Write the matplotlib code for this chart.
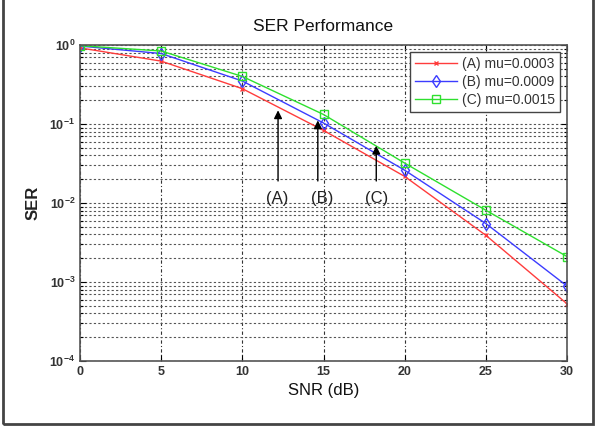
import matplotlib
matplotlib.use("Agg")
import matplotlib.pyplot as plt
import matplotlib.ticker as mticker
from matplotlib.patches import Rectangle

plt.rcParams['font.family'] = ['Liberation Sans', 'DejaVu Sans']

snr = [0, 5, 10, 15, 20, 25, 30]
ser_a = [0.92, 0.625, 0.28, 0.083, 0.0217, 0.0039, 0.00053]
ser_b = [0.97, 0.78, 0.35, 0.103, 0.026, 0.0055, 0.00089]
ser_c = [0.98, 0.84, 0.40, 0.132, 0.032, 0.0081, 0.0021]
labels = ['(A) mu=0.0003', '(B) mu=0.0009', '(C) mu=0.0015']

arrow_x = [12.2, 14.65, 18.25]
arrow_tip = [0.149, 0.111, 0.053]
arrow_tail = 0.019
arrow_text = ['(A)', '(B)', '(C)']
text_x = [12.15, 14.9, 18.25]
text_y = 0.0114

fig = plt.figure(figsize=(6.05, 4.38), dpi=100)
ax = fig.add_axes([80/605, 1-361/438, (567-80)/605, (361-45)/438])

ax.set_yscale('log')
ax.set_xlim(0, 30)
ax.set_ylim(1e-4, 1)

ax.plot(snr, ser_a, color='#ff3c3c', marker='x', ms=3.5, mew=1.0, lw=1.0, label=labels[0])
ax.plot(snr, ser_b, color='#3c3cff', marker='d', ms=6, mfc='none', mew=1.0, lw=1.0, label=labels[1])
ax.plot(snr, ser_c, color='#2ee02e', marker='s', ms=6, mfc='none', mew=1.0, lw=1.0, label=labels[2])

for xa, tip, t, tx in zip(arrow_x, arrow_tip, arrow_text, text_x):
    ax.annotate('', xy=(xa, tip), xytext=(xa, arrow_tail),
                arrowprops=dict(arrowstyle='-|>', color='black', lw=1.0,
                                mutation_scale=12, shrinkA=0, shrinkB=0))
    ax.text(tx, text_y, t, ha='center', va='center', fontsize=12, color='#222222')

ax.set_xticks(snr)
ax.yaxis.set_major_locator(mticker.LogLocator(base=10, numticks=10))
ax.yaxis.set_minor_locator(mticker.LogLocator(base=10, subs=range(2, 10), numticks=10))
ax.yaxis.set_minor_formatter(mticker.NullFormatter())

ax.grid(True, which='major', axis='x', color='#333333', linestyle=(0, (3, 2, 1, 2)), lw=0.8)
ax.grid(True, which='both', axis='y', color='#555555', linestyle=(0, (2, 2)), lw=0.8)

ax.tick_params(which='both', direction='in', top=True, right=True, labelsize=9,
               labelcolor='#333333', width=0.8)
ax.tick_params(which='major', length=4)
ax.tick_params(which='minor', length=2)
for lab in ax.get_xticklabels() + ax.get_yticklabels():
    lab.set_fontweight('bold')

for s in ax.spines.values():
    s.set_color('#555555')
    s.set_linewidth(1.2)

ax.set_title('SER Performance', fontsize=12.5, color='#111111', pad=10)
ax.set_xlabel('SNR (dB)', fontsize=12, color='#111111', labelpad=4)
ax.set_ylabel('SER', fontsize=12, fontweight='bold', color='#222222', labelpad=6)

leg = ax.legend(loc='upper right', fontsize=10, frameon=True, fancybox=False,
                edgecolor='#444444', framealpha=1, borderaxespad=0.5,
                handlelength=3.0, handletextpad=0.4, labelspacing=0.3, borderpad=0.35)
leg.get_frame().set_linewidth(1.0)
for t in leg.get_texts():
    t.set_color('#333333')

fig.patches.append(Rectangle((3/605, 14/438), (593-3)/605, 1.2, transform=fig.transFigure,
                             fill=False, edgecolor='#444444', lw=2.0))

fig.savefig('out.png', dpi=100)
